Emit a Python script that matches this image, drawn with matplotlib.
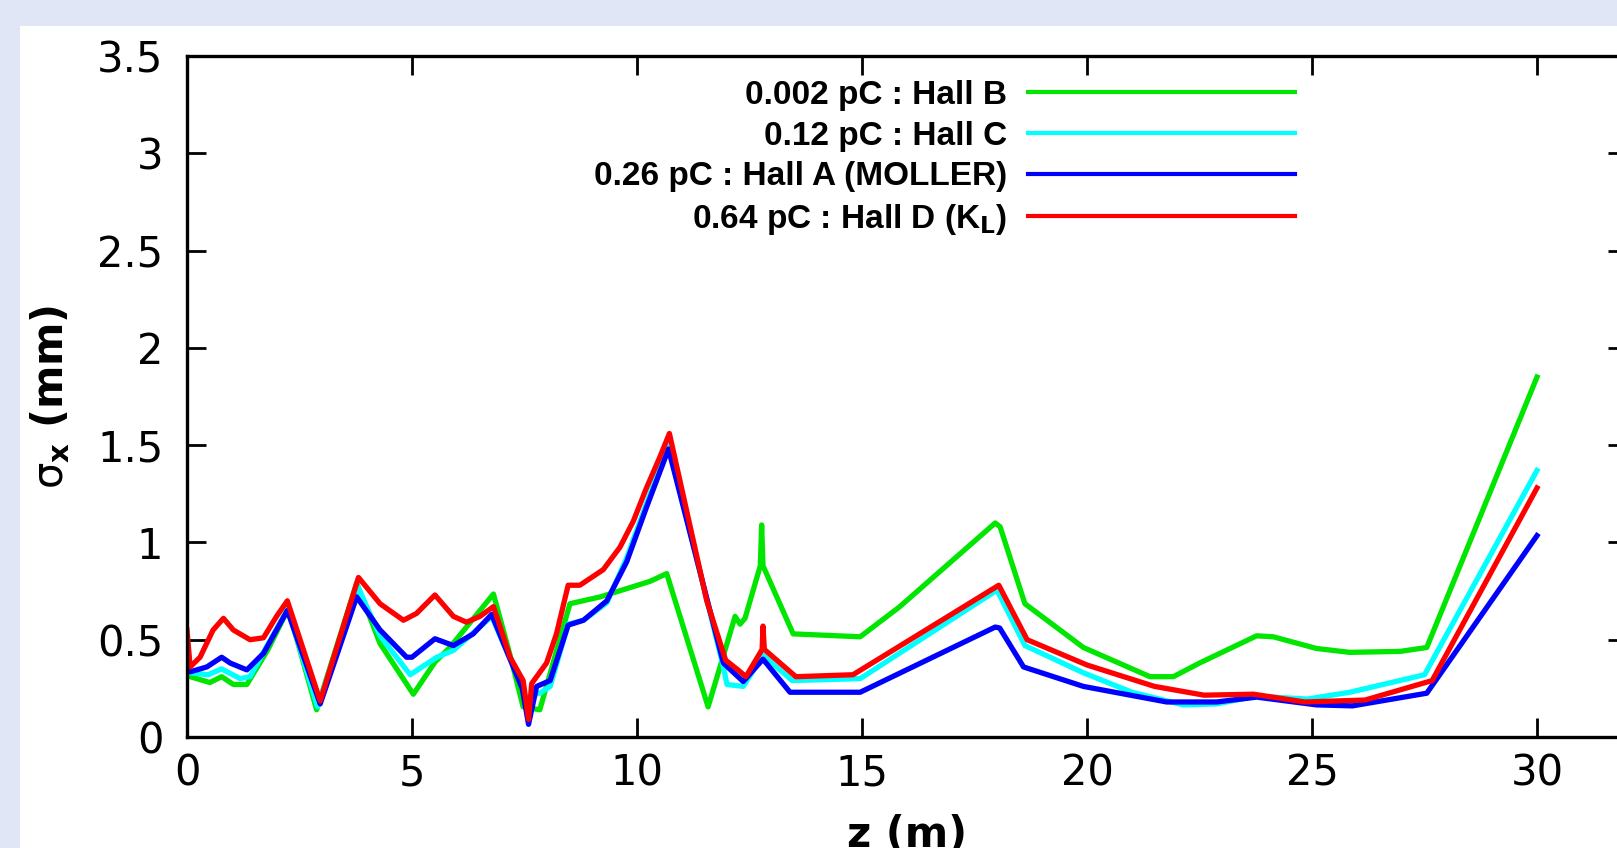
import matplotlib
matplotlib.use("Agg")
import matplotlib.pyplot as plt
from matplotlib.patches import Rectangle
from matplotlib.font_manager import FontProperties

# beam size along the line (z in m, sigma_x in mm)
z_b = [0.0, 0.07, 0.51, 0.77, 1.03, 1.33, 1.8, 2.25, 2.88, 3.77, 4.29, 5.03, 5.51, 5.84, 6.21,
       6.81, 7.18, 7.47, 7.84, 8.51, 9.18, 10.29, 10.66, 11.58, 12.18, 12.29, 12.4, 12.74, 12.77,
       12.8, 13.47, 14.96, 15.84, 17.96, 18.07, 18.62, 19.92, 21.4, 21.92, 22.5, 23.77, 24.14,
       25.1, 25.84, 26.96, 27.55, 30.0]
sx_b = [0.33, 0.31, 0.28, 0.31, 0.27, 0.27, 0.45, 0.66, 0.14, 0.79, 0.48, 0.22, 0.385, 0.46, 0.565,
        0.735, 0.42, 0.155, 0.14, 0.685, 0.72, 0.80, 0.84, 0.155, 0.62, 0.58, 0.61, 0.88, 1.09,
        0.88, 0.53, 0.515, 0.67, 1.10, 1.08, 0.685, 0.46, 0.31, 0.31, 0.38, 0.52, 0.515,
        0.455, 0.435, 0.44, 0.46, 1.85]

z_c = [0.0, 0.07, 0.47, 0.77, 1.18, 1.4, 2.24, 2.9, 3.8, 4.29, 4.96, 5.55, 5.92, 6.77, 7.18, 7.45,
       7.58, 7.7, 7.84, 8.07, 8.47, 8.81, 9.33, 9.77, 10.21, 10.7, 11.92, 12.0, 12.36, 12.8, 13.45,
       14.96, 18.0, 18.62, 19.92, 21.0, 22.14, 22.88, 23.77, 24.9, 25.84, 27.5, 30.0]
sx_c = [0.34, 0.33, 0.32, 0.35, 0.30, 0.31, 0.66, 0.155, 0.77, 0.52, 0.32, 0.41, 0.445, 0.62, 0.40,
        0.28, 0.12, 0.22, 0.225, 0.26, 0.58, 0.60, 0.69, 0.92, 1.20, 1.50, 0.36, 0.27, 0.26, 0.42,
        0.29, 0.30, 0.755, 0.47, 0.33, 0.23, 0.165, 0.17, 0.21, 0.195, 0.23, 0.32, 1.37]

z_a = [0.0, 0.07, 0.44, 0.77, 0.96, 1.33, 1.7, 2.23, 2.96, 3.77, 4.29, 4.88, 5.0, 5.51, 5.92,
       6.36, 6.77, 7.18, 7.45, 7.59, 7.77, 8.07, 8.47, 8.81, 9.33, 9.77, 10.21, 10.7, 11.92,
       12.36, 12.8, 13.4, 14.96, 17.96, 18.06, 18.59, 19.92, 21.77, 22.88, 23.77, 25.1, 25.9,
       27.55, 30.0]
sx_a = [0.35, 0.335, 0.36, 0.41, 0.38, 0.345, 0.43, 0.65, 0.17, 0.72, 0.55, 0.41, 0.41, 0.505, 0.47,
        0.53, 0.63, 0.40, 0.25, 0.065, 0.26, 0.29, 0.575, 0.60, 0.70, 0.90, 1.18, 1.48, 0.38,
        0.285, 0.40, 0.23, 0.23, 0.565, 0.56, 0.36, 0.26, 0.18, 0.18, 0.205, 0.165, 0.16,
        0.225, 1.035]

z_d = [0.0, 0.07, 0.29, 0.58, 0.81, 1.03, 1.4, 1.7, 1.99, 2.23, 2.96, 3.81, 4.29, 4.81, 5.1, 5.51,
       5.92, 6.21, 6.51, 6.81, 7.18, 7.47, 7.59, 7.66, 7.99, 8.21, 8.47, 8.73, 9.25, 9.62, 9.92,
       10.21, 10.51, 10.72, 11.55, 11.97, 12.27, 12.42, 12.78, 12.8, 12.83, 13.53, 14.8, 18.04,
       18.67, 20.0, 21.5, 22.6, 23.7, 24.84, 26.18, 27.67, 30.0]
sx_d = [0.55, 0.36, 0.41, 0.55, 0.61, 0.55, 0.50, 0.51, 0.62, 0.70, 0.185, 0.82, 0.685, 0.60, 0.635,
        0.73, 0.62, 0.59, 0.62, 0.67, 0.41, 0.29, 0.09, 0.275, 0.38, 0.53, 0.78, 0.78, 0.86, 0.975,
        1.11, 1.28, 1.44, 1.56, 0.70, 0.395, 0.34, 0.31, 0.45, 0.57, 0.45, 0.31, 0.32, 0.78,
        0.50, 0.37, 0.26, 0.215, 0.22, 0.18, 0.19, 0.29, 1.28]

labels = ["0.002 pC : Hall B", "0.12 pC : Hall C", "0.26 pC : Hall A (MOLLER)",
          r"0.64 pC : Hall D (K$_\mathbf{L}$)"]
colors = ["#00e600", "#00ffff", "#0000ff", "#ff0000"]

xticks = [0, 5, 10, 15, 20, 25, 30]
yticks = [0, 0.5, 1, 1.5, 2, 2.5, 3, 3.5]
ytick_labels = ["0", "0.5", "1", "1.5", "2", "2.5", "3", "3.5"]

W, H = 1617, 848
fig = plt.figure(figsize=(W / 100, H / 100), dpi=100, facecolor="#e0e6f6")
# white panel behind the plot
fig.patches.append(Rectangle((20 / W, 0), 1, 1 - 26 / H, transform=fig.transFigure,
                             facecolor="white", edgecolor="none", zorder=-1))

ax = fig.add_axes([187 / W, 111 / H, 1440 / W, 681 / H])
ax.set_facecolor("white")

for z, s, lab, c in zip([z_b, z_c, z_a, z_d], [sx_b, sx_c, sx_a, sx_d], labels, colors):
    ax.plot(z, s, color=c, lw=3.8, label=lab)

ax.set_xlim(0, 32)
ax.set_ylim(0, 3.5)
ax.set_xticks(xticks)
ax.set_yticks(yticks)
ax.set_yticklabels(ytick_labels)
ax.tick_params(direction="in", length=14, width=2, top=True, right=True, labelsize=30)
ax.tick_params(axis="y", pad=17)
ax.tick_params(axis="x", pad=11)
for sp in ax.spines.values():
    sp.set_linewidth(2.4)

ax.set_xlabel("z (m)", fontsize=30, fontweight="bold", labelpad=14)
ax.set_ylabel(r"$\mathrm{\sigma}_\mathbf{x}$ (mm)", fontsize=30, fontweight="bold")
ax.yaxis.set_label_coords(-0.08, 0.5)

leg_font = FontProperties(family=["Liberation Sans", "DejaVu Sans"], weight="bold", size=24)
leg = ax.legend(loc="upper right", bbox_to_anchor=((1295 - 187) / 1440, (737 - 80) / 681),
                frameon=False, markerfirst=False, handlelength=8.0, handletextpad=0.63,
                labelspacing=0.29, borderpad=0, borderaxespad=0, prop=leg_font)
for ln in leg.get_lines():
    ln.set_linewidth(3)

fig.savefig("out.png", dpi=100, facecolor=fig.get_facecolor())
